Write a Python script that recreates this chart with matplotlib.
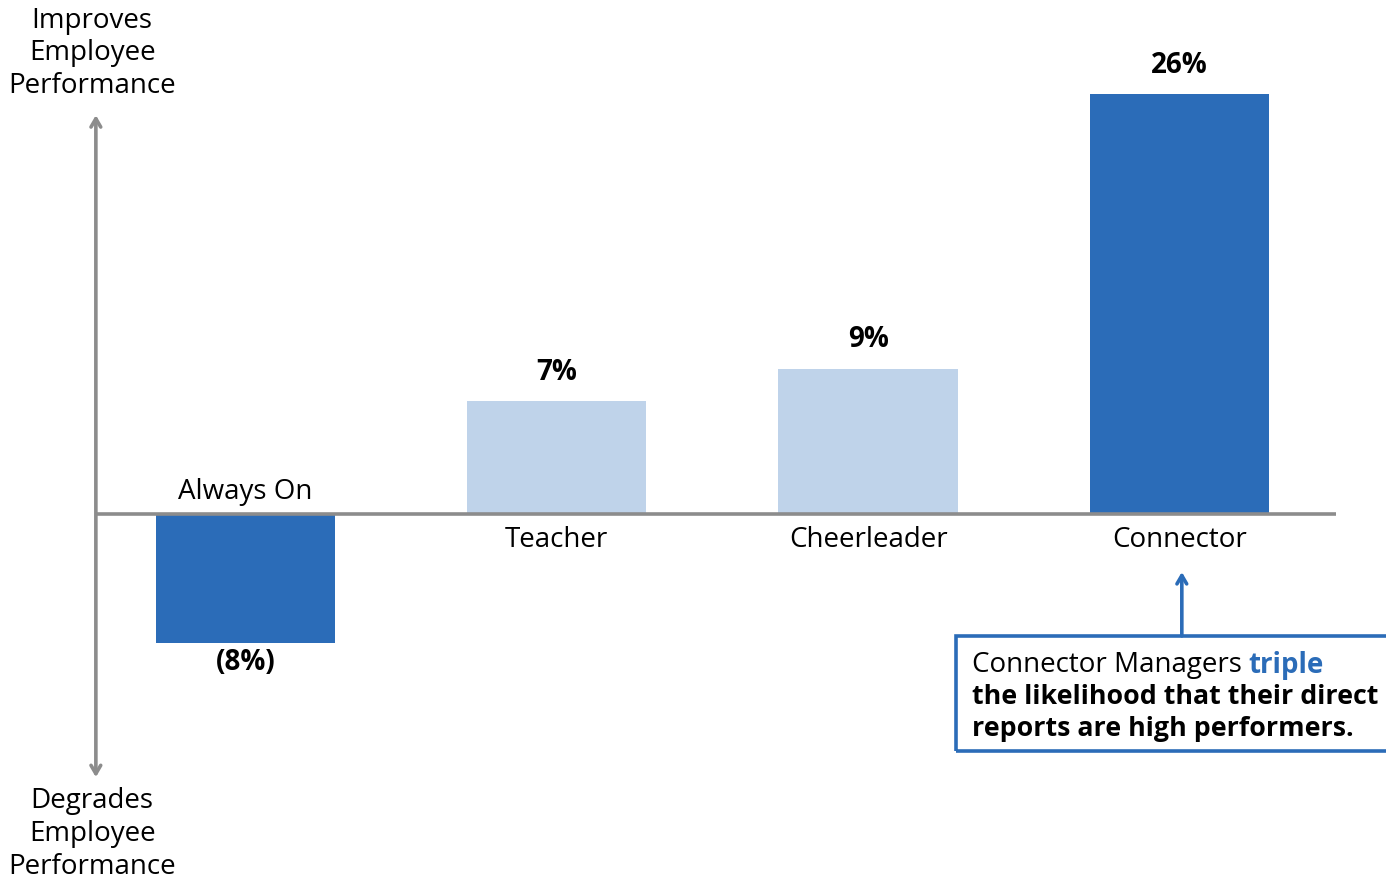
import matplotlib.pyplot as plt
from matplotlib.patches import Rectangle

plt.rcParams['font.family'] = ['Open Sans', 'DejaVu Sans']

categories = ['Always On', 'Teacher', 'Cheerleader', 'Connector']
values = [-8, 7, 9, 26]
value_labels = ['(8%)', '7%', '9%', '26%']
bar_colors = ['#2b6cb8', '#bfd3ea', '#bfd3ea', '#2b6cb8']

DARK = '#2b6cb8'
GRAY = '#8c8c8c'

fig = plt.figure(figsize=(13.86, 8.79), dpi=100)
ax = fig.add_axes([0, 0, 1, 1])
ax.set_xlim(-0.789, 3.664)
ax.set_ylim(-22.54, 31.89)
ax.axis('off')

x = list(range(len(categories)))
ax.bar(x, values, width=0.576, color=bar_colors, zorder=2)

# zero line and the two-way performance arrow
ax.plot([-0.478, 3.503], [0, 0], color=GRAY, lw=2.6, zorder=3,
        solid_capstyle='butt')
ax.annotate('', xy=(-0.481, 24.7), xytext=(-0.481, -16.3),
            arrowprops=dict(arrowstyle='<->, head_width=0.35, head_length=0.6',
                            color=GRAY, lw=2.6, shrinkA=0, shrinkB=0))

fs = 20
for xi, v, lab, name in zip(x, values, value_labels, categories):
    if v < 0:
        ax.text(xi, v - 1.15, lab, ha='center', va='center', fontsize=fs,
                fontweight='bold')
        ax.text(xi, 1.42, name, ha='center', va='center', fontsize=fs)
    else:
        ax.text(xi, v + 1.85, lab, ha='center', va='center', fontsize=fs,
                fontweight='bold')
        ax.text(xi, -1.55, name, ha='center', va='center', fontsize=fs)

ax.text(-0.493, 28.6, 'Improves\nEmployee\nPerformance', ha='center',
        va='center', fontsize=fs, linespacing=1.22)
ax.text(-0.493, -19.75, 'Degrades\nEmployee\nPerformance', ha='center',
        va='center', fontsize=fs, linespacing=1.22)

# callout box for the Connector bar, running off the right edge
ax.add_patch(Rectangle((2.282, -14.67), 3.0, 7.12, fill=False,
                       edgecolor=DARK, lw=2.6, zorder=4))
ax.annotate('', xy=(3.008, -3.59), xytext=(3.008, -7.55),
            arrowprops=dict(arrowstyle='->, head_width=0.35, head_length=0.6',
                            color=DARK, lw=2.6, shrinkA=0, shrinkB=0))
t1 = ax.text(2.333, -9.29, 'Connector Managers ', ha='left', va='center',
             fontsize=fs)
ax.annotate('triple', xy=(1, 0.5), xycoords=t1, ha='left', va='center',
            fontsize=fs, fontweight='bold', color=DARK)
ax.text(2.333, -12.26, 'the likelihood that their direct\n'
        'reports are high performers.', ha='left', va='center', fontsize=19.3,
        fontweight='bold', linespacing=1.3)

fig.savefig('out.png', dpi=100)
